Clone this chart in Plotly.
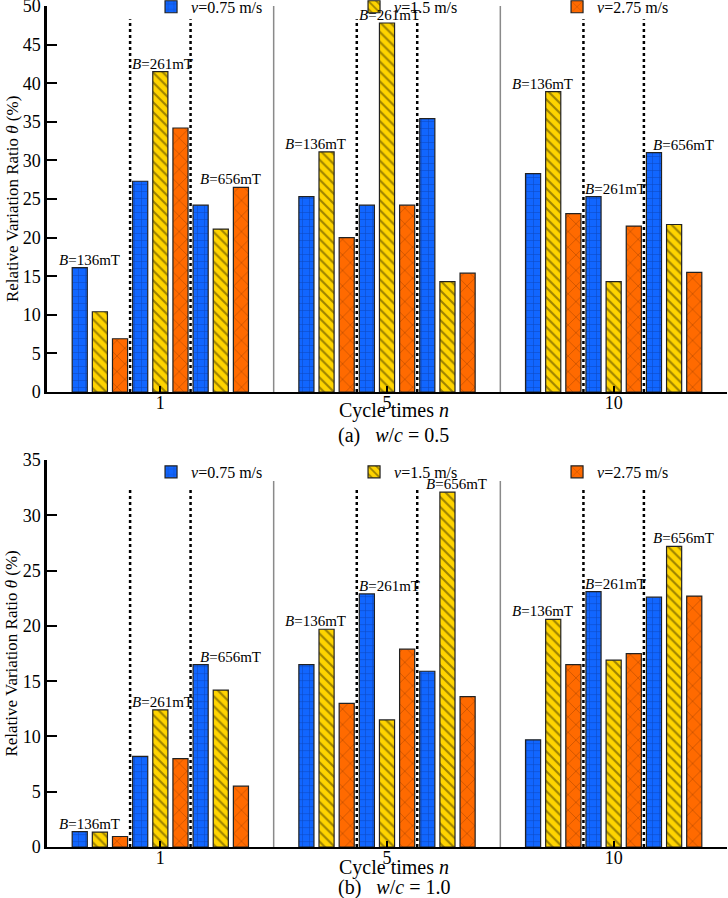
import plotly.graph_objects as go

cycles = ["1", "5", "10"]
fields = ["136", "261", "656"]
speeds = ["0.75", "1.5", "2.75"]

# theta (%) -- rows: B = 136, 261, 656 mT ; cols: n = 1, 5, 10
# (a) w/c = 0.5
theta_a_v075 = [[16.1, 25.3, 28.3], [27.3, 24.2, 25.3], [24.2, 35.4, 31.0]]
theta_a_v150 = [[10.4, 31.1, 38.9], [41.5, 47.8, 14.3], [21.1, 14.3, 21.7]]
theta_a_v275 = [[6.9, 20.0, 23.1], [34.2, 24.2, 21.5], [26.5, 15.4, 15.5]]
# (b) w/c = 1.0
theta_b_v075 = [[1.4, 16.5, 9.7], [8.2, 22.9, 23.1], [16.5, 15.9, 22.6]]
theta_b_v150 = [[1.35, 19.7, 20.6], [12.4, 11.5, 16.9], [14.2, 32.1, 27.2]]
theta_b_v275 = [[0.95, 13.0, 16.5], [8.0, 17.9, 17.5], [5.5, 13.6, 22.7]]

panels = [
    dict(data=[theta_a_v075, theta_a_v150, theta_a_v275], xa="x", ya="y", legend="legend",
         caption="(a)&nbsp;&nbsp;&nbsp;<i>w</i>/<i>c</i> = 0.5", skip=[(1, 2)], sep_top=1.0,
         title_dy=-18, cap_dy=-43),
    dict(data=[theta_b_v075, theta_b_v150, theta_b_v275], xa="x2", ya="y2", legend="legend2",
         caption="(b)&nbsp;&nbsp;&nbsp;<i>w</i>/<i>c</i> = 1.0", skip=[], sep_top=0.946,
         title_dy=-20, cap_dy=-40),
]

colors = ["#1166ff", "#ffd400", "#ff6a00"]
patterns = [
    dict(shape="+", fgcolor="#0a2a80", size=7, solidity=0.15),
    dict(shape="\\", fgcolor="#3a3000", size=7, solidity=0.3),
    dict(shape="x", fgcolor="#3a1500", size=11, solidity=0.08),
]
label_shift = [-13, 0, 7]

FONT = "Liberation Serif"
bargap = 0.2
sub_w = (1 - bargap) / 3

fig = go.Figure()
shapes = []
annotations = []

for p in panels:
    for j, field in enumerate(fields):
        for i, sp in enumerate(speeds):
            fig.add_trace(go.Bar(
                x=cycles, y=p["data"][i][j],
                name="<i>v</i>=" + sp + " m/s",
                legendgroup=p["legend"] + sp, legend=p["legend"],
                showlegend=(j == 0),
                xaxis=p["xa"], yaxis=p["ya"],
                marker=dict(color=colors[i], pattern=patterns[i],
                            line=dict(color="#222222", width=1.2)),
            ))
    top = max(max(max(r) for r in s) for s in p["data"]) * 1.01
    for k in range(len(cycles)):
        for off in (-sub_w / 2, sub_w / 2):
            shapes.append(dict(type="line", xref=p["xa"], yref=p["ya"], x0=k + off, x1=k + off,
                               y0=0, y1=top, line=dict(color="black", width=2.5, dash="dot")))
        for j, field in enumerate(fields):
            if (k, j) in p["skip"]:
                continue
            hmax = max(p["data"][i][j][k] for i in range(3))
            annotations.append(dict(x=k + (j - 1) * sub_w - sub_w / 2, y=hmax,
                                    xref=p["xa"], yref=p["ya"], xanchor="left", yanchor="middle",
                                    xshift=label_shift[j], yshift=8, showarrow=False,
                                    text="<i>B</i>=" + field + "mT",
                                    font=dict(family=FONT, size=15, color="black")))
    for k in range(len(cycles) - 1):
        shapes.append(dict(type="line", xref=p["xa"], yref=p["ya"] + " domain", x0=k + 0.5, x1=k + 0.5,
                           y0=0, y1=p["sep_top"], line=dict(color="#8a8a8a", width=1.5)))
    annotations.append(dict(x=0.51, y=0, xref=p["xa"] + " domain", yref=p["ya"] + " domain",
                            yanchor="middle", yshift=p["title_dy"], showarrow=False,
                            text="Cycle times <i>n</i>", font=dict(family=FONT, size=20, color="black")))
    annotations.append(dict(x=0.51, y=0, xref=p["xa"] + " domain", yref=p["ya"] + " domain",
                            yanchor="middle", yshift=p["cap_dy"], showarrow=False,
                            text=p["caption"], font=dict(family=FONT, size=20, color="black")))
    annotations.append(dict(x=0, y=0.5, xref=p["xa"] + " domain", yref=p["ya"] + " domain",
                            xanchor="center", yanchor="middle", xshift=-35, textangle=-90,
                            showarrow=False, text="Relative Variation Ratio <i>θ</i> (%)",
                            font=dict(family=FONT, size=17, color="black")))

xa = dict(type="category", range=[-0.5, 2.5], showline=True, linecolor="black", linewidth=2,
          ticks="inside", ticklen=6, tickcolor="black", tickwidth=1.5, showgrid=False,
          ticklabelstandoff=-7, tickfont=dict(family=FONT, size=18, color="black"))
ya = dict(showline=True, linecolor="black", linewidth=2.5, ticks="inside", ticklen=10, tickwidth=2,
          tickcolor="black", dtick=5, showgrid=False, zeroline=False, ticklabeloverflow="allow",
          tickfont=dict(family=FONT, size=18, color="black"))
leg = dict(orientation="h", xanchor="left", yanchor="middle", x=0.153,
           entrywidth=158, entrywidthmode="pixels", bgcolor="rgba(0,0,0,0)",
           font=dict(family=FONT, size=16, color="black"), traceorder="normal")

fig.update_layout(
    width=728, height=898,
    margin=dict(l=47, r=1, t=6, b=51, autoexpand=False),
    plot_bgcolor="white", paper_bgcolor="white",
    barmode="group", bargap=bargap, bargroupgap=0.25,
    xaxis=dict(xa, anchor="y"),
    yaxis=dict(ya, domain=[0.541, 1], range=[0, 50], anchor="x"),
    xaxis2=dict(xa, anchor="y2"),
    yaxis2=dict(ya, domain=[0, 0.46], range=[0, 35], anchor="x2"),
    legend=dict(leg, y=0.999),
    legend2=dict(leg, y=0.446),
    shapes=shapes,
    annotations=annotations,
    font=dict(family=FONT),
)

# page body has a default 8px margin; drop it so the figure sits at the window corner
fig.write_html("out.html", config={"displayModeBar": False},
               post_script="document.body.style.margin='0';")
